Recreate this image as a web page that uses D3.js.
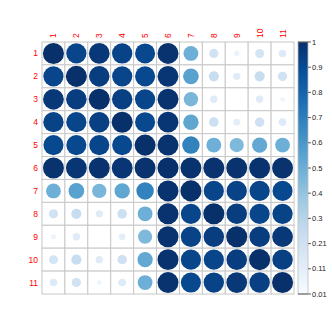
<!DOCTYPE html>
<html>
<head>
<meta charset="utf-8">
<script src="https://cdn.jsdelivr.net/npm/d3@7"></script>
<style>
html,body{margin:0;padding:0;background:#fff;}
svg{display:block;font-family:"Liberation Sans",Arial,sans-serif;}
</style>
</head>
<body>
<svg id="chart" width="332" height="332"></svg>
<script>
const labels = ["1","2","3","4","5","6","7","8","9","10","11"];
const row1  = [1.00,0.92,0.97,0.93,0.91,0.99,0.50,0.20,0.07,0.19,0.14];
const row2  = [0.92,1.00,0.95,0.92,0.91,0.98,0.56,0.24,0.13,0.24,0.20];
const row3  = [0.97,0.95,1.00,0.94,0.92,0.99,0.47,0.13,0.01,0.13,0.06];
const row4  = [0.93,0.92,0.94,1.00,0.91,0.98,0.54,0.22,0.11,0.21,0.14];
const row5  = [0.91,0.91,0.92,0.91,1.00,0.99,0.69,0.50,0.46,0.53,0.50];
const row6  = [0.99,0.98,0.99,0.98,0.99,1.00,0.99,0.99,0.99,0.99,0.99];
const row7  = [0.50,0.56,0.47,0.54,0.69,0.99,1.00,0.92,0.93,0.92,0.91];
const row8  = [0.20,0.24,0.13,0.22,0.50,0.99,0.92,1.00,0.95,0.92,0.93];
const row9  = [0.07,0.13,0.01,0.11,0.46,0.99,0.93,0.95,1.00,0.95,0.97];
const row10 = [0.19,0.24,0.13,0.21,0.53,0.99,0.92,0.92,0.95,1.00,0.94];
const row11 = [0.14,0.20,0.06,0.14,0.50,0.99,0.91,0.93,0.97,0.94,1.00];
const matrix = [row1,row2,row3,row4,row5,row6,row7,row8,row9,row10,row11];
const legendLabels = ["0.01","0.11","0.21","0.3","0.4","0.5","0.6","0.7","0.8","0.9","1"];
const valueMin = 0.01, valueMax = 1;
const blues = ["#F7FBFF","#DEEBF7","#C6DBEF","#9ECAE1","#6BAED6","#4292C6","#2171B5","#08519C","#08306B"];

const svg = d3.select("#chart");
const gLeft = 42, gTop = 42, gRight = 294, gBottom = 294;

const x = d3.scaleBand().domain(labels).range([gLeft, gRight]);
const y = d3.scaleBand().domain(labels).range([gTop, gBottom]);
const bw = x.bandwidth();

const color = d3.scaleLinear()
  .domain(blues.map((_, i) => valueMin + (valueMax - valueMin) * i / (blues.length - 1)))
  .range(blues)
  .interpolate(d3.interpolateRgb);
const rad = d3.scaleSqrt().domain([0, valueMax - valueMin]).range([0, bw * 0.46]);

const cells = [];
matrix.forEach((row, i) => row.forEach((v, j) => cells.push({r: labels[i], c: labels[j], v})));

// grid
const grid = svg.append("g");
cells.forEach(d => {
  grid.append("rect")
    .attr("x", x(d.c)).attr("y", y(d.r))
    .attr("width", bw).attr("height", bw)
    .attr("fill", "#fff").attr("stroke", "#c8c8c8").attr("stroke-width", 1);
});

// circles
svg.append("g").selectAll("circle").data(cells).join("circle")
  .attr("cx", d => x(d.c) + bw / 2)
  .attr("cy", d => y(d.r) + bw / 2)
  .attr("r", d => rad(Math.max(0, d.v - valueMin)))
  .attr("fill", d => color(d.v));

// row labels
svg.append("g").selectAll("text").data(labels).join("text")
  .attr("x", gLeft - 4)
  .attr("y", d => y(d) + bw / 2)
  .attr("dy", "0.35em")
  .attr("text-anchor", "end")
  .attr("font-size", 8.5)
  .attr("fill", "#FF0000")
  .text(d => d);

// column labels (rotated)
svg.append("g").selectAll("text").data(labels).join("text")
  .attr("transform", d => `translate(${x(d) + bw / 2},${gTop - 4}) rotate(-90)`)
  .attr("dy", "0.35em")
  .attr("text-anchor", "start")
  .attr("font-size", 8.5)
  .attr("fill", "#FF0000")
  .text(d => d);

// color legend
const barX = 298, barW = 10;
const defs = svg.append("defs");
const grad = defs.append("linearGradient").attr("id", "lg")
  .attr("x1", 0).attr("y1", 1).attr("x2", 0).attr("y2", 0);
d3.range(0, 1.0001, 0.05).forEach(t => {
  grad.append("stop").attr("offset", t).attr("stop-color", color(valueMin + t * (valueMax - valueMin)));
});
svg.append("rect").attr("x", barX).attr("y", gTop).attr("width", barW).attr("height", gBottom - gTop)
  .attr("fill", "url(#lg)").attr("stroke", "#bdbdbd").attr("stroke-width", 0.8);

const ly = d3.scalePoint().domain(legendLabels).range([gBottom, gTop]);
const lg = svg.append("g");
legendLabels.forEach(l => {
  lg.append("line").attr("x1", barX + barW).attr("x2", barX + barW + 3)
    .attr("y1", ly(l)).attr("y2", ly(l)).attr("stroke", "#333").attr("stroke-width", 0.8);
  lg.append("text").attr("x", barX + barW + 4).attr("y", ly(l)).attr("dy", "0.35em")
    .attr("font-size", 7.5).attr("fill", "#222").text(l);
});
lg.append("line").attr("x1", barX).attr("x2", barX + barW)
  .attr("y1", gBottom).attr("y2", gBottom).attr("stroke", "#333").attr("stroke-width", 0.8);
lg.append("line").attr("x1", barX).attr("x2", barX + barW)
  .attr("y1", gTop).attr("y2", gTop).attr("stroke", "#333").attr("stroke-width", 0.8);
</script>
</body>
</html>
